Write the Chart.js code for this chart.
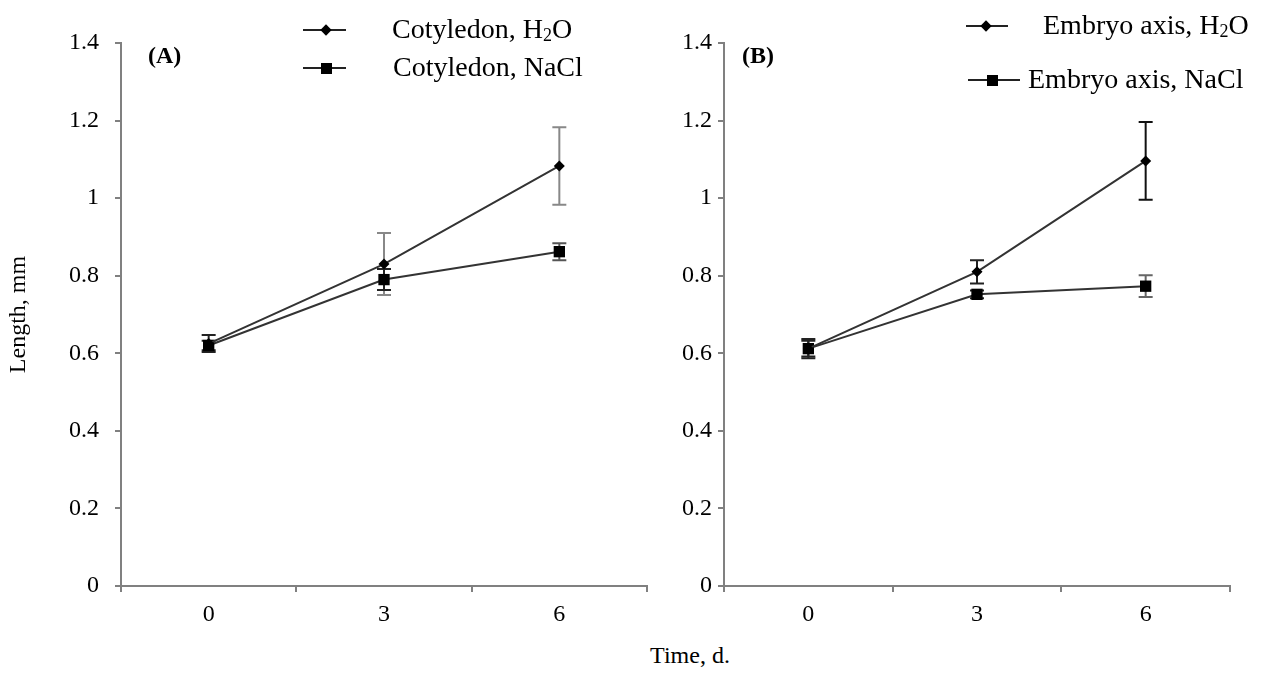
<!DOCTYPE html>
<html>
<head>
<meta charset="utf-8">
<script src="https://cdn.jsdelivr.net/npm/chart.js@4/dist/chart.umd.min.js"></script>
<style>
  body { margin: 0; background: #fff; width: 1271px; height: 693px; position: relative; overflow: hidden; font-family: "Liberation Serif", serif; color: #000; }
  canvas { position: absolute; top: 0; }
  .txt { position: absolute; white-space: nowrap; line-height: 30px; }
  .panel { font-weight: bold; font-size: 24px; }
  .leg { font-size: 28px; }
  .leg sub { font-size: 18px; vertical-align: -3px; line-height: 0; }
  .legline { position: absolute; height: 2px; background: #222; }
  .mk { position: absolute; background: #000; }
</style>
</head>
<body>
<canvas id="chartA" width="660" height="640" style="left:0"></canvas>
<canvas id="chartB" width="611" height="640" style="left:660px"></canvas>

<div class="txt panel" style="left:148px; top:40px">(A)</div>
<div class="txt panel" style="left:742px; top:40px">(B)</div>

<div id="legend"></div>

<div class="txt" style="left:590px; width:200px; text-align:center; top:640px; font-size:24px">Time, d.</div>

<script>
const days = ["0", "3", "6"];
const yTicksMax = 1.4;
const yStep = 0.2;

const cotH2O = [0.625, 0.83, 1.083];
const cotH2OErr = [0.022, 0.08, 0.1];
const cotNaCl = [0.62, 0.79, 0.862];
const cotNaClErr = [0.012, 0.027, 0.022];

const axisH2O = [0.612, 0.81, 1.096];
const axisH2OErr = [0.025, 0.03, 0.1];
const axisNaCl = [0.612, 0.752, 0.773];
const axisNaClErr = [0.02, 0.01, 0.028];

const legendA = ["Cotyledon, H<sub>2</sub>O", "Cotyledon, NaCl"];
const legendB = ["Embryo axis, H<sub>2</sub>O", "Embryo axis, NaCl"];

const axisGrey = "#808080";
const fontFam = "'Liberation Serif', 'Times New Roman', serif";

// error bars, drawn under the markers
const errorBars = {
    id: "errorBars",
    beforeDatasetsDraw(chart) {
        const ctx = chart.ctx;
        const y = chart.scales.y;
        chart.data.datasets.forEach((ds, i) => {
            const meta = chart.getDatasetMeta(i);
            meta.data.forEach((pt, j) => {
                const v = ds.data[j], e = ds.errors[j];
                const top = y.getPixelForValue(v + e);
                const bot = y.getPixelForValue(v - e);
                ctx.save();
                ctx.strokeStyle = ds.errorColor[j];
                ctx.lineWidth = 2;
                ctx.beginPath();
                ctx.moveTo(pt.x, top); ctx.lineTo(pt.x, bot);
                ctx.moveTo(pt.x - 7, top); ctx.lineTo(pt.x + 7, top);
                ctx.moveTo(pt.x - 7, bot); ctx.lineTo(pt.x + 7, bot);
                ctx.stroke();
                ctx.restore();
            });
        });
    }
};

function makeDataset(values, errs, style, errColor) {
    return {
        data: values,
        errors: errs,
        errorColor: errColor,
        borderColor: "#333",
        borderWidth: 2,
        pointStyle: style,
        pointRadius: style === "rect" ? 8 : 5.5,
        pointBackgroundColor: "#000",
        pointBorderColor: "#000",
        pointBorderWidth: 0,
        tension: 0,
    };
}

function makeChart(el, datasets, yWidth, yPad, rightPad, yTitle) {
    return new Chart(el, {
        type: "line",
        data: { labels: days, datasets: datasets },
        options: {
            responsive: false,
            animation: false,
            events: [],
            layout: { padding: { top: 43, right: rightPad, bottom: 14, left: 0 } },
            plugins: { legend: { display: false }, tooltip: { enabled: false } },
            scales: {
                x: {
                    offset: true,
                    grid: { offset: true, drawOnChartArea: false, tickLength: 6, color: axisGrey, lineWidth: 2 },
                    border: { color: axisGrey, width: 2 },
                    ticks: { color: "#000", padding: 8, font: { family: fontFam, size: 24 } },
                    afterFit: (s) => { s.height = 40; },
                },
                y: {
                    min: 0,
                    max: yTicksMax,
                    grid: { drawOnChartArea: false, tickLength: 6, color: axisGrey, lineWidth: 2 },
                    border: { color: axisGrey, width: 2 },
                    ticks: {
                        stepSize: yStep, color: "#000", padding: yPad,
                        font: { family: fontFam, size: 24 },
                        callback: (v) => String(+v.toFixed(1)),
                    },
                    title: { display: !!yTitle, text: yTitle, color: "#000", font: { family: fontFam, size: 24 }, padding: { top: 4 } },
                    afterFit: (s) => { s.width = yWidth; },
                },
            },
        },
        plugins: [errorBars],
    });
}

makeChart(document.getElementById("chartA"), [
    makeDataset(cotH2O, cotH2OErr, "rectRot", ["#222", "#888", "#888"]),
    makeDataset(cotNaCl, cotNaClErr, "rect", ["#222", "#222", "#555"]),
], 121, 16, 13, "Length, mm");

makeChart(document.getElementById("chartB"), [
    makeDataset(axisH2O, axisH2OErr, "rectRot", ["#222", "#222", "#111"]),
    makeDataset(axisNaCl, axisNaClErr, "rect", ["#222", "#222", "#666"]),
], 64, 6, 41, "");

// legend rows: [lineLeft, lineWidth, markerX, y, textLeft, shape, label]
const legendRows = [
    [303, 43, 326, 30, 392, "diamond", legendA[0]],
    [303, 43, 326, 68, 393, "square", legendA[1]],
    [966, 42, 986, 26, 1043, "diamond", legendB[0]],
    [968, 52, 992, 80, 1028, "square", legendB[1]],
];
const legend = document.getElementById("legend");
legendRows.forEach((r) => {
    const line = document.createElement("div");
    line.className = "legline";
    line.style.left = r[0] + "px";
    line.style.width = r[1] + "px";
    line.style.top = (r[3] - 1) + "px";
    legend.appendChild(line);

    const mk = document.createElement("div");
    mk.className = "mk";
    const s = r[5] === "square" ? 11 : 8;
    mk.style.width = s + "px";
    mk.style.height = s + "px";
    mk.style.left = (r[2] - s / 2) + "px";
    mk.style.top = (r[3] - s / 2) + "px";
    if (r[5] === "diamond") mk.style.transform = "rotate(45deg)";
    legend.appendChild(mk);

    const t = document.createElement("div");
    t.className = "txt leg";
    t.style.left = r[4] + "px";
    t.style.top = (r[3] - 16) + "px";
    t.innerHTML = r[6];
    legend.appendChild(t);
});
</script>
</body>
</html>
